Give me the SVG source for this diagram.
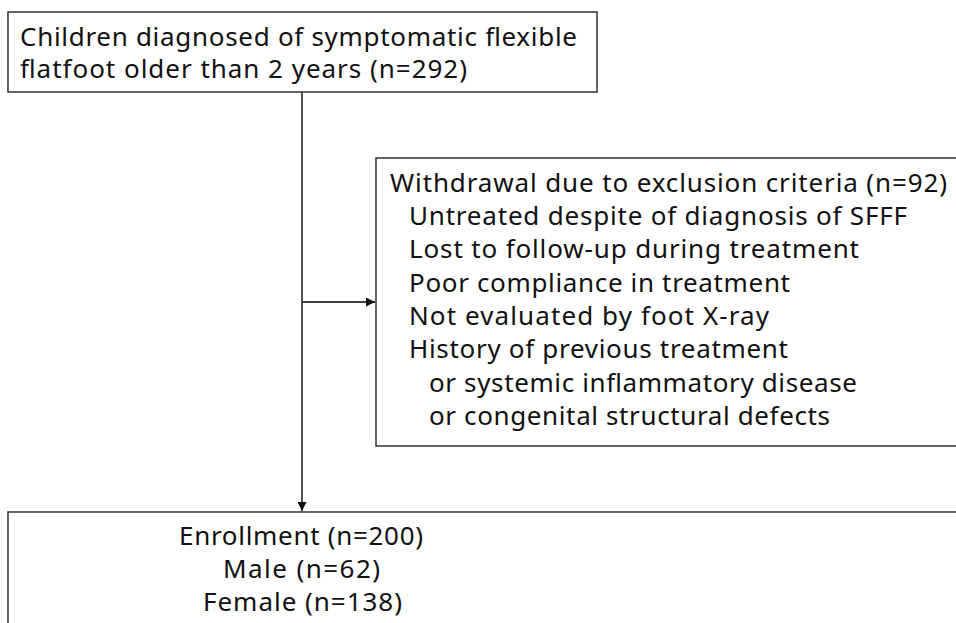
<svg xmlns="http://www.w3.org/2000/svg" width="956" height="623" viewBox="0 0 956 623">
<style>
.box{fill:#fff;stroke:#404040;stroke-width:1.6}
.t{font-family:"Noto Sans","Open Sans",sans-serif;font-size:26px;fill:#111}
.c{stroke:#404040;stroke-width:1.8;fill:none}
</style>
<defs>
<marker id="ah" viewBox="0 0 10 10" refX="10" refY="5" markerWidth="10" markerHeight="9" markerUnits="userSpaceOnUse" orient="auto">
<path d="M0,0 L10,5 L0,10 z" fill="#111"/>
</marker>
</defs>
<rect width="956" height="623" fill="#fff"/>
<g id="connectors">
<path class="c" d="M302,92 V511" marker-end="url(#ah)"/>
<path class="c" d="M302,302 H375" marker-end="url(#ah)"/>
</g>
<g id="node-screened">
<rect class="box" x="8" y="12" width="589" height="80"/>
<text class="t" x="20" y="46" textLength="557" lengthAdjust="spacing">Children diagnosed of symptomatic flexible</text>
<text class="t" x="20" y="78" textLength="447" lengthAdjust="spacing">flatfoot older than 2 years (n=292)</text>
</g>
<g id="node-excluded">
<rect class="box" x="376" y="158" width="590" height="288"/>
<text class="t" x="390" y="192" textLength="557" lengthAdjust="spacing">Withdrawal due to exclusion criteria (n=92)</text>
<text class="t" x="409" y="225" textLength="498" lengthAdjust="spacing">Untreated despite of diagnosis of SFFF</text>
<text class="t" x="409" y="258" textLength="450" lengthAdjust="spacing">Lost to follow-up during treatment</text>
<text class="t" x="409" y="292" textLength="381" lengthAdjust="spacing">Poor compliance in treatment</text>
<text class="t" x="409" y="325" textLength="360" lengthAdjust="spacing">Not evaluated by foot X-ray</text>
<text class="t" x="409" y="358" textLength="379" lengthAdjust="spacing">History of previous treatment</text>
<text class="t" x="429" y="392" textLength="428" lengthAdjust="spacing">or systemic inflammatory disease</text>
<text class="t" x="429" y="425" textLength="401" lengthAdjust="spacing">or congenital structural defects</text>
</g>
<g id="node-enrolled">
<rect class="box" x="8" y="512" width="960" height="130"/>
<text class="t" x="179" y="545" textLength="244" lengthAdjust="spacing">Enrollment (n=200)</text>
<text class="t" x="223" y="578" textLength="157" lengthAdjust="spacing">Male (n=62)</text>
<text class="t" x="203" y="611" textLength="199" lengthAdjust="spacing">Female (n=138)</text>
</g>
</svg>
